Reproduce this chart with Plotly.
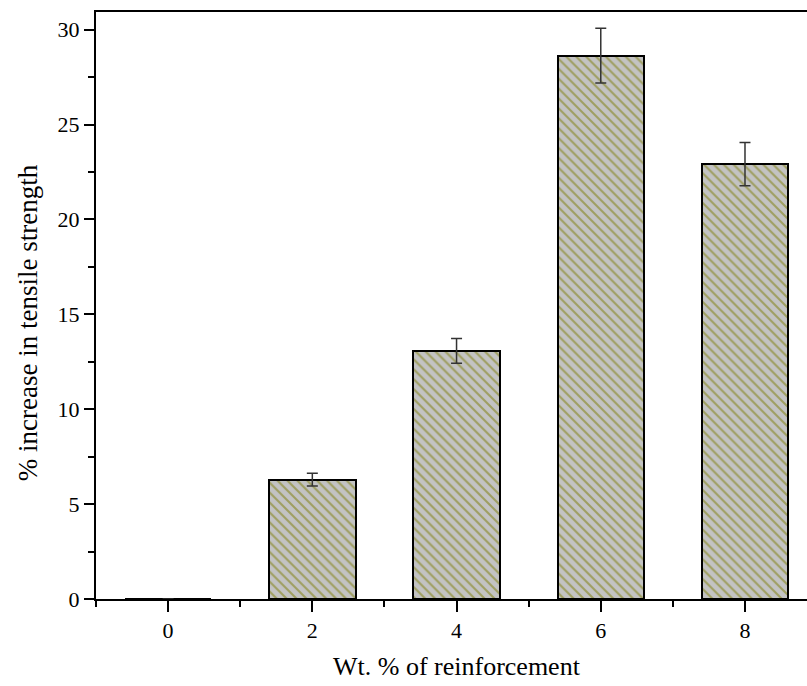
import plotly.graph_objects as go

wt = [0, 2, 4, 6, 8]
increase = [0, 6.29, 13.07, 28.63, 22.92]
err = [None, 0.33, 0.65, 1.44, 1.14]
x_title = "Wt. % of reinforcement"
y_title = "% increase in tensile strength"

font = "Liberation Serif"

fig = go.Figure()
fig.add_trace(go.Bar(
    x=wt, y=increase, width=1.2,
    marker=dict(
        color="#c3c3c3",
        line=dict(color="black", width=2),
        pattern=dict(shape="\\", fgcolor="#7a7a00", bgcolor="#c3c3c3", size=7, solidity=0.3),
    ),
    error_y=dict(type="data", array=err, visible=True, color="#333333", thickness=1.5, width=5.5),
))

fig.add_annotation(text=x_title, xref="paper", yref="paper", x=0.5071, y=-0.1158,
                   xanchor="center", yanchor="middle", showarrow=False,
                   font=dict(family=font, size=26, color="black"))
fig.add_annotation(text=y_title, xref="paper", yref="paper", x=-0.0956, y=0.47,
                   xanchor="center", yanchor="middle", textangle=-90, showarrow=False,
                   font=dict(family=font, size=27, color="black"))

fig.update_layout(
    width=807, height=686,
    margin=dict(l=96, r=0, t=12, b=87),
    plot_bgcolor="white", paper_bgcolor="white",
    showlegend=False,
    font=dict(family=font, color="black", size=22),
    bargap=0,
)
fig.update_xaxes(
    range=[-1, 8.86], tickvals=[0, 2, 4, 6, 8],
    showline=True, linecolor="black", linewidth=2, mirror=True,
    ticks="outside", ticklen=11, tickwidth=2, tickcolor="black",
    minor=dict(dtick=1, tick0=-1, ticks="outside", ticklen=6, tickwidth=2, tickcolor="black"),
    showgrid=False, zeroline=False,
    tickfont=dict(family=font, size=22),
)
fig.update_yaxes(
    range=[0, 30.93], tickvals=[0, 5, 10, 15, 20, 25, 30],
    showline=True, linecolor="black", linewidth=2, mirror=False,
    ticks="outside", ticklen=10, tickwidth=2, tickcolor="black",
    minor=dict(dtick=2.5, tick0=0, ticks="outside", ticklen=6, tickwidth=2, tickcolor="black"),
    showgrid=False, zeroline=False,
    tickfont=dict(family=font, size=22),
)

fig.write_html("out.html")
